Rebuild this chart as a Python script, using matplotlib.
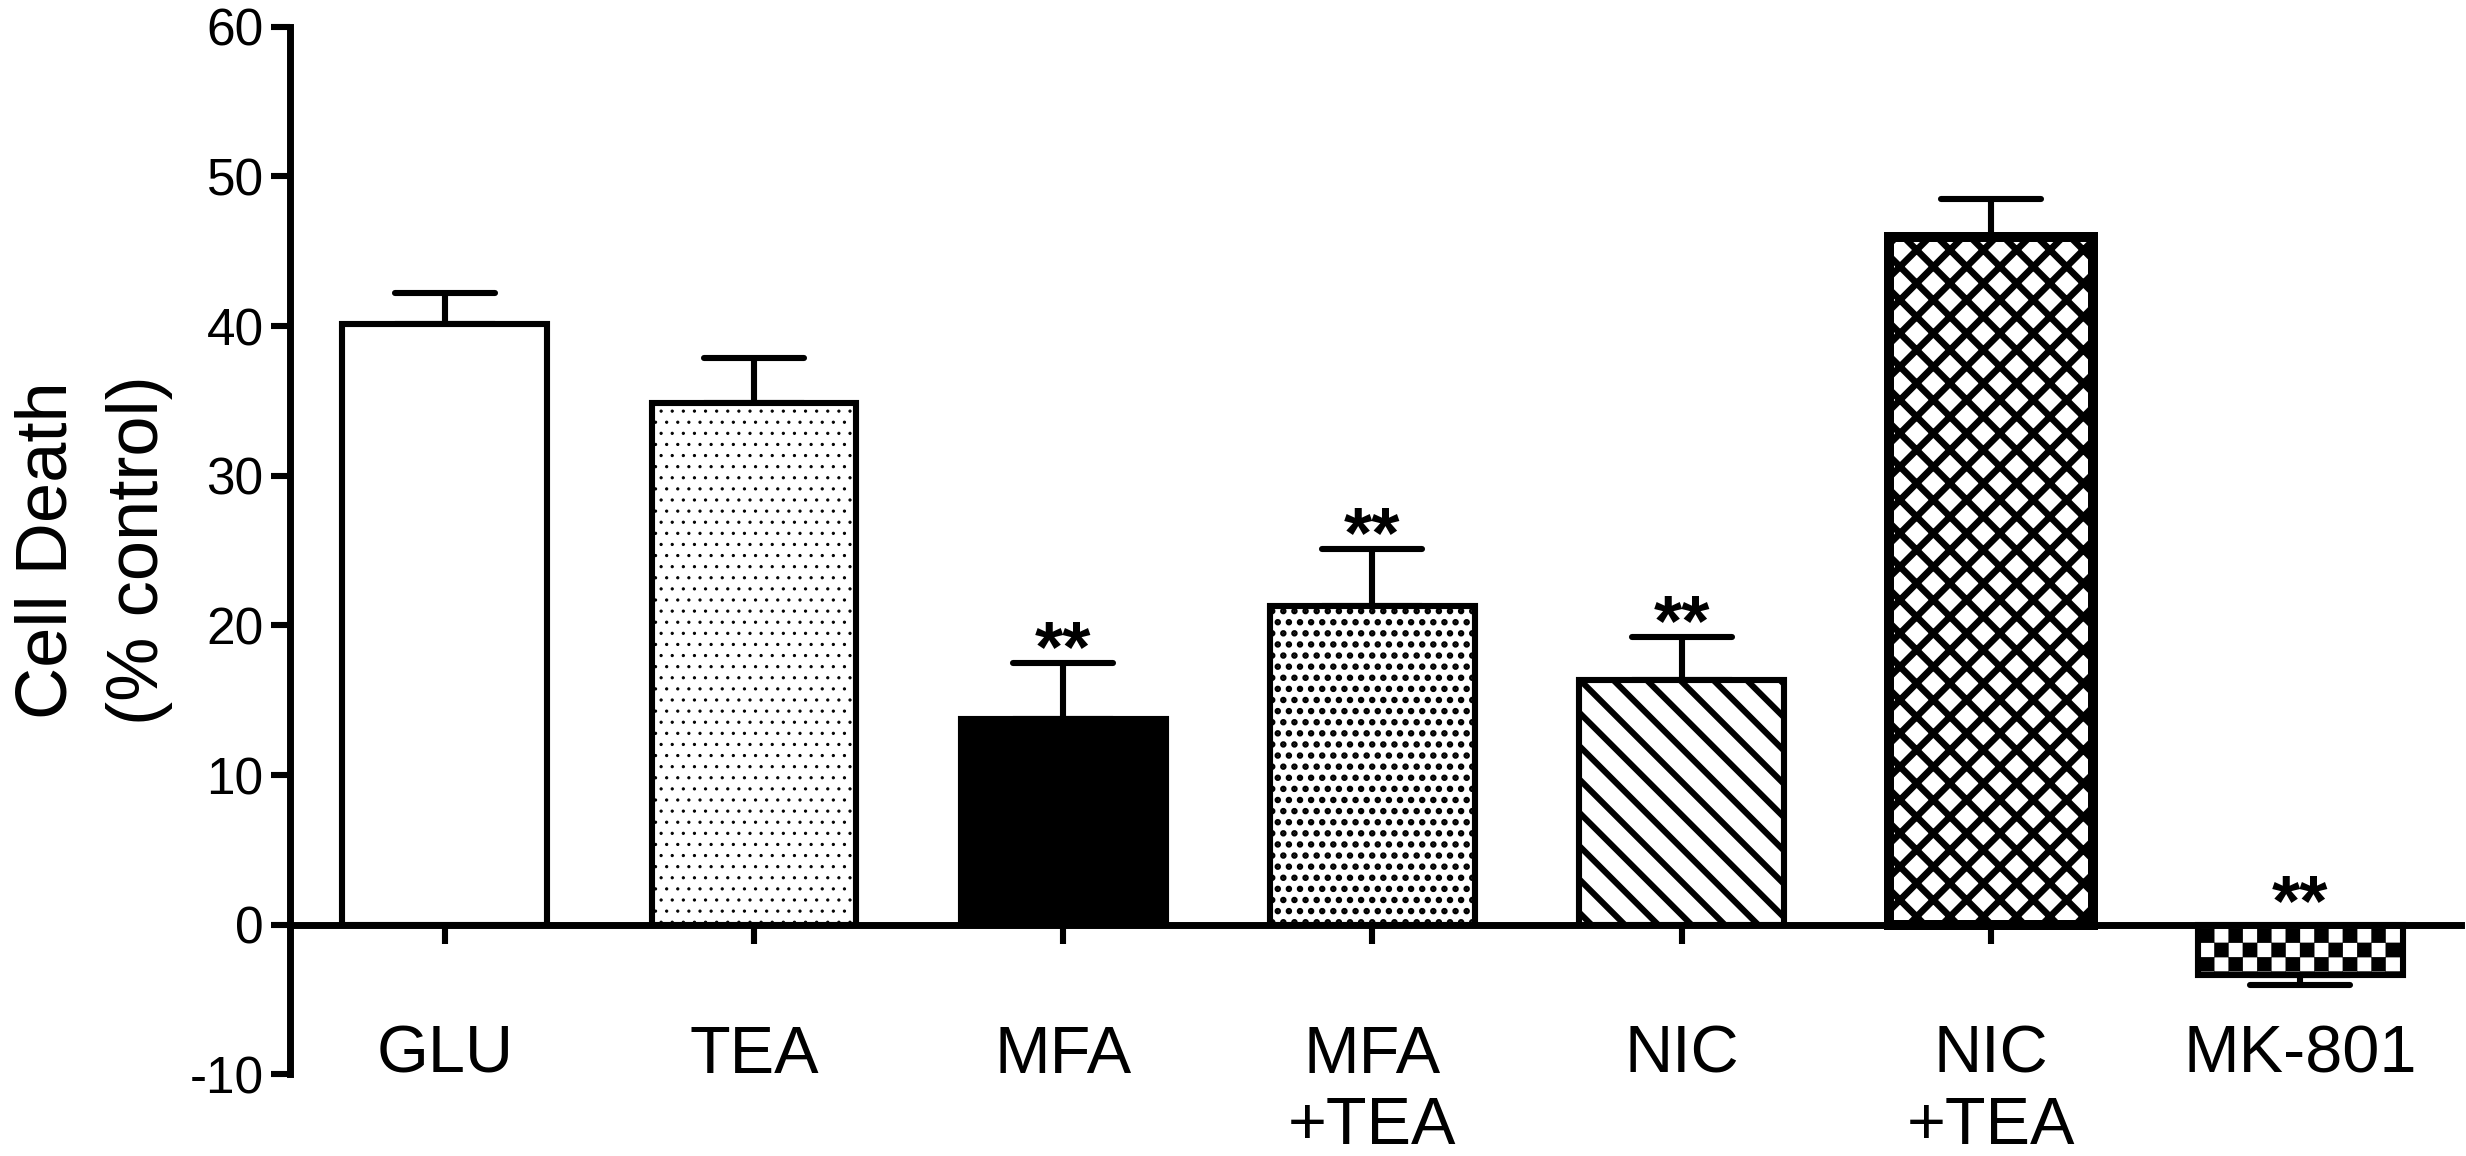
import warnings
warnings.filterwarnings("ignore")
import matplotlib
matplotlib.use("Agg")
import matplotlib.pyplot as plt
import matplotlib.hatch as mhatch
from matplotlib.path import Path
from matplotlib.markers import MarkerStyle

# ---------------- data ----------------
categories = ["GLU", "TEA", "MFA", "MFA\n+TEA", "NIC", "NIC\n+TEA", "MK-801"]
means = [40.15, 34.87, 13.73, 21.3, 16.34, 45.97, -3.39]
sems = [2.05, 2.98, 3.77, 3.8, 2.89, 2.5, 0.66]
signif = ["", "", "**", "**", "**", "", "**"]
yticks = [-10, 0, 10, 20, 30, 40, 50, 60]
ylabel = "Cell Death\n(% control)"

# ---------------- styles ----------------
facecolors = ["white", "white", "black", "white", "white", "white", "white"]
hatches = [None, "...", None, "...", "\\\\", "xx", "##"]
hatch_lws = [0.5, 0.35, 0.5, 1.5, 2.2, 2.4, 0.1]
edge_lws = [2.2, 2.2, 2.2, 2.2, 2.2, 3.6, 2.2]


# custom checkerboard hatch ('#')
class CheckerHatch(mhatch.HatchPatternBase):
    filled = True

    def __init__(self, hatch, density):
        self.n = hatch.count("#") * 7
        self.cells = [(i, j) for i in range(self.n) for j in range(self.n)
                      if (i + j) % 2 == 0]
        self.num_vertices = len(self.cells) * 5

    def set_vertices_and_codes(self, vertices, codes):
        s = 1.0 / self.n
        k = 0
        for i, j in self.cells:
            x0, y0 = i * s, j * s
            vertices[k:k + 5] = [(x0, y0), (x0 + s, y0), (x0 + s, y0 + s),
                                 (x0, y0 + s), (x0, y0)]
            codes[k:k + 5] = [Path.MOVETO, Path.LINETO, Path.LINETO,
                              Path.LINETO, Path.CLOSEPOLY]
            k += 5


mhatch._hatch_types.append(CheckerHatch)

plt.rcParams["font.family"] = ["Liberation Sans", "DejaVu Sans"]
plt.rcParams["hatch.color"] = "black"
plt.rcParams["axes.unicode_minus"] = False

fig = plt.figure(figsize=(12.33, 5.78), dpi=200)
ax = fig.add_axes([0.1176, 0.0706, 0.8804, 0.9063])

x = list(range(len(categories)))
for i in x:
    with plt.rc_context({"hatch.linewidth": hatch_lws[i]}):
        b = ax.bar(i, means[i], width=0.662, color=facecolors[i],
                   edgecolor="black", linewidth=edge_lws[i],
                   hatch=hatches[i], zorder=3)[0]
    if hasattr(b, "set_hatch_linewidth"):
        b.set_hatch_linewidth(hatch_lws[i])

lower = [s if m < 0 else 0 for m, s in zip(means, sems)]
upper = [0 if m < 0 else s for m, s in zip(means, sems)]
eb = ax.errorbar(x, means, yerr=[lower, upper], fmt="none", ecolor="black",
                 elinewidth=2.2, capsize=18, capthick=2.2, zorder=2)
for cl in eb[1]:
    cl.set_marker(MarkerStyle("_", capstyle="round"))

for i in x:
    if signif[i]:
        if means[i] >= 0:
            ax.annotate(signif[i], xy=(i, means[i] + sems[i]), xytext=(0, -3),
                        textcoords="offset points", ha="center", va="baseline",
                        fontsize=26, fontweight="bold", zorder=5)
        else:
            ax.annotate(signif[i], xy=(i, 0), xytext=(0, 0),
                        textcoords="offset points", ha="center", va="baseline",
                        fontsize=26, fontweight="bold", zorder=5)

ax.set_xlim(-0.5, 6.52)
ax.set_ylim(-10, 60)
ax.set_yticks(yticks)
ax.set_xticks(x)
ax.set_xticklabels(categories)
ax.tick_params(axis="y", labelsize=18.5, length=7, width=2.2, pad=2.5,
               direction="out")
ax.tick_params(axis="x", labelsize=24, length=7, width=2.2, pad=29,
               direction="out")
for lbl in ax.get_xticklabels():
    lbl.set_linespacing(1.12)
ax.set_ylabel(ylabel, fontsize=26, linespacing=1.47, labelpad=6)

for side in ["top", "right"]:
    ax.spines[side].set_visible(False)
ax.spines["left"].set_linewidth(2.5)
ax.spines["bottom"].set_linewidth(2.5)
ax.spines["bottom"].set_position(("data", 0))
ax.spines["bottom"].set_zorder(4)

fig.savefig("out.png", dpi=200)
